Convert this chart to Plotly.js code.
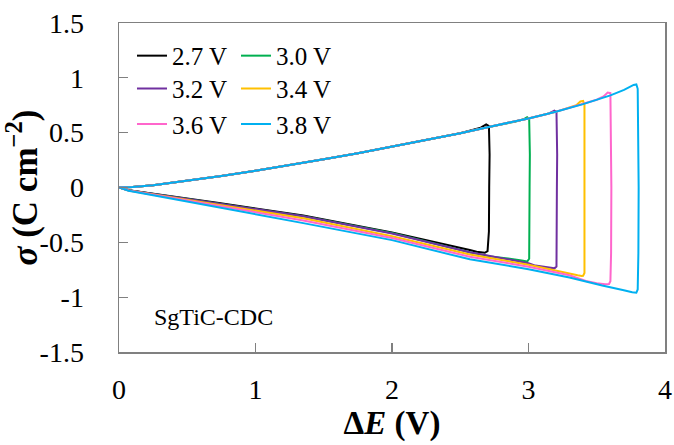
<!DOCTYPE html>
<html>
<head>
<meta charset="utf-8">
<script src="https://cdn.plot.ly/plotly-3.0.1.min.js"></script>
<style>html,body{margin:0;padding:0;background:#fff;}#chart{width:674px;height:445px;}</style>
</head>
<body>
<div id="chart"></div>
<script>
// Series names and colours
var seriesNames = ["2.7 V", "3.0 V", "3.2 V", "3.4 V", "3.6 V", "3.8 V"];
var seriesColors = ["#000000", "#00b050", "#7030a0", "#ffc000", "#ff66cc", "#00b0f0"];

// ΔE (V) and σ (C cm^-2) for each cycle: charge branch, vertical step, discharge branch
var e27 = [0, 0.1, 0.25, 0.5, 0.75, 1.0, 1.25, 1.5, 1.75, 2.0, 2.25, 2.5, 2.65, 2.69, 2.71, 2.715, 2.712, 2.71, 2.70, 2.68, 2.62, 2.57, 2.0, 1.35, 0.72, 0.25, 0.07, 0];
var s27 = [0, 0.004, 0.02, 0.06, 0.105, 0.152, 0.203, 0.257, 0.313, 0.372, 0.432, 0.495, 0.545, 0.575, 0.56, 0.3, 0, -0.4, -0.58, -0.595, -0.585, -0.57, -0.41, -0.255, -0.14, -0.056, -0.025, 0];

var e30 = [0, 0.1, 0.25, 0.5, 0.75, 1.0, 1.25, 1.5, 1.75, 2.0, 2.25, 2.5, 2.7, 2.9, 2.97, 2.99, 3.005, 3.01, 3.008, 3.005, 2.99, 2.95, 2.85, 2.72, 2.57, 2.0, 1.35, 0.72, 0.25, 0.07, 0];
var s30 = [0, 0.004, 0.02, 0.06, 0.105, 0.152, 0.203, 0.257, 0.313, 0.372, 0.432, 0.495, 0.55, 0.60, 0.625, 0.64, 0.625, 0.3, 0, -0.65, -0.675, -0.665, -0.648, -0.628, -0.59, -0.415, -0.262, -0.145, -0.058, -0.026, 0];

var e32 = [0, 0.1, 0.25, 0.5, 0.75, 1.0, 1.25, 1.5, 1.75, 2.0, 2.25, 2.5, 2.7, 2.9, 3.0, 3.15, 3.19, 3.205, 3.21, 3.208, 3.205, 3.19, 3.15, 3.05, 3.0, 2.8, 2.57, 2.0, 1.35, 0.72, 0.25, 0.07, 0];
var s32 = [0, 0.004, 0.02, 0.06, 0.105, 0.152, 0.203, 0.257, 0.313, 0.372, 0.432, 0.495, 0.55, 0.60, 0.63, 0.675, 0.70, 0.69, 0.3, 0, -0.72, -0.737, -0.73, -0.712, -0.69, -0.645, -0.59, -0.42, -0.262, -0.145, -0.058, -0.026, 0];

var e34 = [0, 0.1, 0.25, 0.5, 0.75, 1.0, 1.25, 1.5, 1.75, 2.0, 2.25, 2.5, 2.7, 2.9, 3.0, 3.2, 3.35, 3.38, 3.40, 3.41, 3.412, 3.41, 3.40, 3.39, 3.36, 3.3, 3.19, 3.0, 2.57, 2.0, 1.35, 0.72, 0.25, 0.07, 0];
var s34 = [0, 0.004, 0.02, 0.06, 0.105, 0.152, 0.203, 0.257, 0.313, 0.372, 0.432, 0.495, 0.55, 0.60, 0.63, 0.69, 0.75, 0.785, 0.79, 0.75, 0, -0.78, -0.805, -0.807, -0.80, -0.785, -0.757, -0.705, -0.61, -0.445, -0.28, -0.158, -0.062, -0.027, 0];

var e36 = [0, 0.1, 0.25, 0.5, 0.75, 1.0, 1.25, 1.5, 1.75, 2.0, 2.25, 2.5, 2.7, 2.9, 3.0, 3.2, 3.4, 3.5, 3.55, 3.58, 3.60, 3.605, 3.607, 3.605, 3.60, 3.59, 3.56, 3.5, 3.42, 3.3, 3.0, 2.57, 2.0, 1.35, 0.72, 0.25, 0.07, 0];
var s36 = [0, 0.004, 0.02, 0.06, 0.105, 0.152, 0.203, 0.257, 0.313, 0.372, 0.432, 0.495, 0.55, 0.60, 0.63, 0.69, 0.76, 0.80, 0.83, 0.865, 0.86, 0.5, 0, -0.6, -0.855, -0.88, -0.882, -0.872, -0.852, -0.80, -0.722, -0.632, -0.46, -0.30, -0.165, -0.065, -0.028, 0];

var e38 = [0, 0.1, 0.25, 0.5, 0.75, 1.0, 1.25, 1.5, 1.75, 2.0, 2.25, 2.5, 2.7, 2.9, 3.0, 3.2, 3.4, 3.6, 3.7, 3.77, 3.79, 3.80, 3.805, 3.807, 3.805, 3.80, 3.79, 3.76, 3.69, 3.54, 3.3, 3.0, 2.57, 2.0, 1.35, 0.72, 0.25, 0.07, 0];
var s38 = [0, 0.004, 0.02, 0.06, 0.105, 0.152, 0.203, 0.257, 0.313, 0.372, 0.432, 0.495, 0.55, 0.60, 0.63, 0.69, 0.76, 0.84, 0.89, 0.935, 0.94, 0.90, 0.4, 0, -0.6, -0.93, -0.96, -0.955, -0.935, -0.894, -0.82, -0.745, -0.655, -0.48, -0.325, -0.175, -0.07, -0.03, 0];

// Axis ticks
var xTickVals = [0, 1, 2, 3, 4];
var xTickText = ["0", "1", "2", "3", "4"];
var yTickVals = [-1.5, -1, -0.5, 0, 0.5, 1, 1.5];
var yTickText = ["-1.5", "-1", "-0.5", "0", "0.5", "1", "1.5"];

var xs = [e27, e30, e32, e34, e36, e38];
var ys = [s27, s30, s32, s34, s36, s38];
var legendIds = ["legend", "legend", "legend2", "legend2", "legend3", "legend3"];

var FONT = "Liberation Serif";
var traces = [];
for (var i = 0; i < seriesNames.length; i++) {
  traces.push({
    type: "scatter",
    mode: "lines",
    x: xs[i],
    y: ys[i],
    name: seriesNames[i],
    legend: legendIds[i],
    line: {color: seriesColors[i], width: 2},
    hoverinfo: "skip"
  });
}

function legendAt(y) {
  return {
    orientation: "h",
    x: 0.0238, xanchor: "left",
    y: y, yanchor: "middle",
    bgcolor: "rgba(0,0,0,0)",
    borderwidth: 0,
    font: {family: FONT, size: 25, color: "#000"},
    entrywidth: 59, entrywidthmode: "pixels",
    itemwidth: 30,
    itemclick: false, itemdoubleclick: false
  };
}

var axisCommon = {
  showgrid: false,
  zeroline: false,
  ticks: "inside",
  ticklen: 9,
  tickwidth: 1.2,
  tickcolor: "#808080",
  showline: true,
  linecolor: "#808080",
  linewidth: 1.5,
  mirror: true,
  tickmode: "array",
  tickfont: {family: FONT, size: 28, color: "#000"},
  automargin: false,
  fixedrange: true
};

var layout = {
  width: 674,
  height: 445,
  margin: {l: 119, r: 9, t: 23, b: 93},
  paper_bgcolor: "#ffffff",
  plot_bgcolor: "#ffffff",
  showlegend: true,
  legend: legendAt(0.900),
  legend2: legendAt(0.800),
  legend3: legendAt(0.692),
  xaxis: Object.assign({}, axisCommon, {
    range: [0, 4],
    tickvals: xTickVals,
    ticktext: xTickText,
    ticklabelstandoff: 12,
    title: {text: "<b>Δ<i>E</i> (V)</b>", font: {family: FONT, size: 33, color: "#000"}, standoff: 4}
  }),
  yaxis: Object.assign({}, axisCommon, {
    range: [-1.5, 1.5],
    tickvals: yTickVals,
    ticktext: yTickText,
    ticklabelstandoff: 28,
    title: {text: "<b><i>σ</i> (C cm<sup>−2</sup>)</b>", font: {family: FONT, size: 35, color: "#000"}, standoff: 0}
  }),
  annotations: [{
    text: "SgTiC-CDC",
    x: 0.24, y: -1.18, xref: "x", yref: "y",
    xanchor: "left", yanchor: "middle",
    showarrow: false,
    font: {family: FONT, size: 24, color: "#000"}
  }]
};

Plotly.newPlot("chart", traces, layout, {displayModeBar: false, staticPlot: true});
</script>
</body>
</html>
